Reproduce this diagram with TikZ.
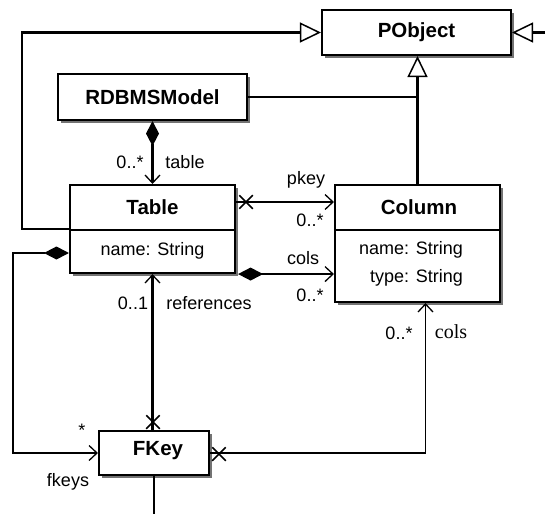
\documentclass[tikz,border=0pt]{standalone}
\usepackage{fontspec}
\setmainfont{Liberation Sans}
\newfontfamily\serifcols{Liberation Serif}
\usetikzlibrary{arrows.meta,shadows,shapes.misc}
\begin{document}
\begin{tikzpicture}[x=1pt,y=-1pt,
 cls/.style={draw,line width=2.1pt,fill=white,inner sep=0pt,
   drop shadow={shadow xshift=3pt,shadow yshift=-3pt,fill=black!55,opacity=1}},
 title/.style={font=\fontsize{20.5pt}{24pt}\selectfont\bfseries,inner sep=0pt},
 attr/.style={font=\fontsize{18pt}{21pt}\selectfont,inner sep=0pt},
 lbl/.style={font=\fontsize{18pt}{21pt}\selectfont,inner sep=0pt},
 gen/.style={line width=2.2pt,-{Triangle[open,length=21pt,width=20pt,line width=1.5pt]}},
 thick2/.style={line width=2.2pt},
 nav/.style={line width=2.2pt,-{Straight Barb[length=8pt,width=15pt,line width=1.3pt]}},
 navthin/.style={line width=1.2pt,-{Straight Barb[length=8pt,width=15pt,line width=1.3pt]}},
 comp/.style={line width=2.2pt,{Diamond[length=25pt,width=13pt]}-{Straight Barb[length=8pt,width=15pt,line width=1.3pt]}},
 compthin/.style={line width=1.2pt,{Diamond[length=25pt,width=13pt]}-{Straight Barb[length=8pt,width=15pt,line width=1.3pt]}},
 xmark/.style={cross out,draw,line width=1.5pt,minimum size=12pt,inner sep=0pt},
]
\useasboundingbox (0,0) rectangle (545,514);

% classes
\node[cls,minimum width=189pt,minimum height=45pt] (PObject) at (416.5,32.5) {};
\node[title] (tPObject) at (416.5,32) {PObject};

\node[cls,minimum width=189pt,minimum height=46pt] (RDBMSModel) at (152.5,97) {};
\node[title] (tRDBMS) at (152.5,97) {RDBMSModel};

\node[cls,minimum width=165pt,minimum height=88pt] (Table) at (152.5,229) {};
\draw[thick2] (Table.west |- 0,230) coordinate (tsl) -- (Table.east |- 0,230) coordinate (tsr);
\node[title] (tTable) at (152.5,207) {Table};
\node[attr] (aTable) at (152.5,251) {name: String};

\node[cls,minimum width=165pt,minimum height=117pt] (Column) at (417.5,243.5) {};
\draw[thick2] (Column.west |- 0,230) coordinate (csl) -- (Column.east |- 0,230) coordinate (csr);
\node[title] (tColumn) at (419,207) {Column};
\node[attr,anchor=east] (aCol1) at (463,250) {name: String};
\node[attr,anchor=east] (aCol2) at (463,278) {type: String};

\node[cls,minimum width=110pt,minimum height=44pt] (FKey) at (154,453) {};
\node[title] (tFKey) at (158,451) {FKey};

% generalizations
\draw[gen] (Table.west) -- (22,229) |- (PObject.west);
\coordinate (pr) at (545,32.5);
\draw[gen] (pr) -- (PObject.east);
\draw[gen] (Column.north) -- (Column.north |- PObject.south);
\draw[thick2] (RDBMSModel.east) -- (RDBMSModel.east -| Column.north);

% RDBMSModel -> Table
\draw[comp] (RDBMSModel.south) -- (Table.north);
\node[lbl] (l1) at (130,162) {0..*};
\node[lbl] (l2) at (185,162) {table};

% pkey
\draw[nav] (Table.east |- 0,202) -- (Column.west |- 0,202);
\node[xmark] (x1) at (246,202) {};
\node[lbl] (l3) at (306,180) {pkey};
\node[lbl] (l4) at (310,220) {0..*};

% cols composition
\draw[comp] (Table.south east) ++(2,0) -- (Column.west |- Table.south east);
\node[lbl] (l5) at (303,258) {cols};
\node[lbl] (l6) at (310,295) {0..*};

% references
\draw[nav] (Table.south |- FKey.north) -- (Table.south);
\node[xmark] (x2) at (153,422) {};
\node[lbl] (l7) at (133,303) {0..1};
\node[lbl] (l8) at (209,303) {references};

% fkeys
\draw[compthin] (Table.west |- 0,253) -- (13,253) |- (FKey.west);
\node[lbl] (l9) at (82,430) {*};
\node[lbl] (l10) at (68,482) {fkeys};

% FKey -> Column cols
\draw[navthin] (FKey.east) -| ([xshift=8pt]Column.south);
\node[xmark] (x3) at (219,454) {};
\node[lbl] (l11) at (399,333) {0..*};
\node[font=\fontsize{20pt}{23pt}\serifcols,inner sep=0pt] (l12) at (451,332) {cols};

% FKey bottom line
\coordinate (fb) at (154,514);
\draw[thick2] (FKey.south) -- (fb);
\end{tikzpicture}
\end{document}
